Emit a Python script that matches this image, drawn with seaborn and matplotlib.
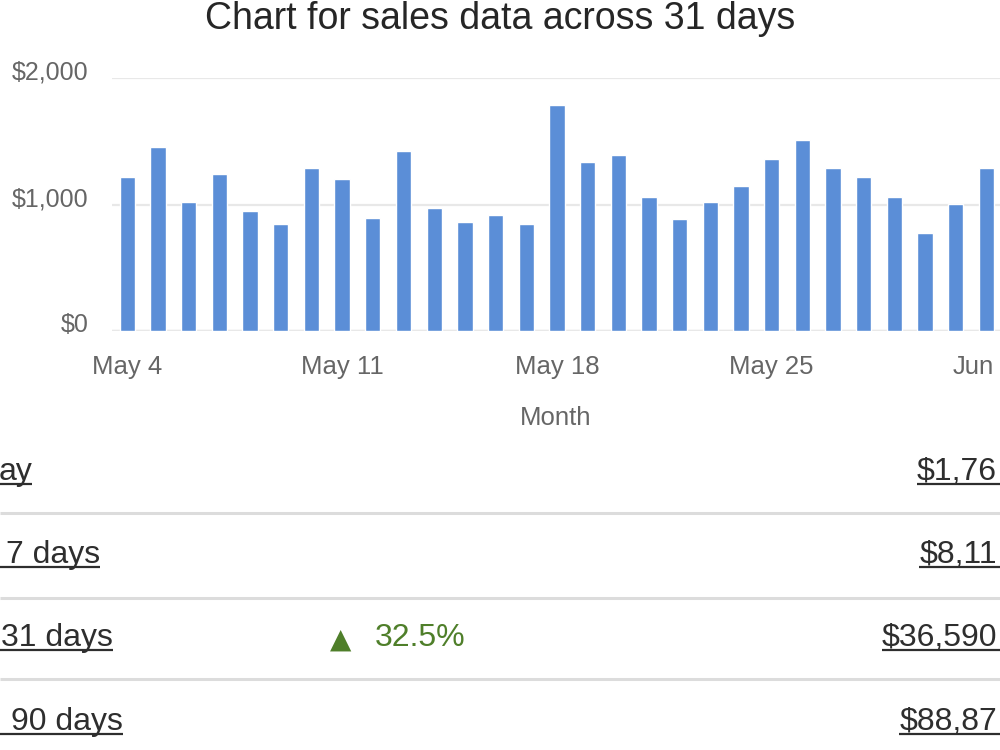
import matplotlib
matplotlib.use("Agg")
import matplotlib.pyplot as plt
from matplotlib.transforms import ScaledTranslation
import seaborn as sns
import pandas as pd

# ---------------- data ----------------
days = ["May 4", "May 5", "May 6", "May 7", "May 8", "May 9", "May 10",
        "May 11", "May 12", "May 13", "May 14", "May 15", "May 16", "May 17",
        "May 18", "May 19", "May 20", "May 21", "May 22", "May 23", "May 24",
        "May 25", "May 26", "May 27", "May 28", "May 29", "May 30", "May 31",
        "Jun 1"]
sales = [1220, 1457, 1022, 1241, 951, 846, 1291,
         1202, 896, 1425, 970, 864, 917, 846,
         1787, 1338, 1391, 1057, 883, 1022, 1146,
         1357, 1510, 1291, 1220, 1057, 772, 1004,
         1291]
tick_days = ["May 4", "May 11", "May 18", "May 25", "Jun 1"]
tick_texts = ["May 4", "May 11", "May 18", "May 25", "Jun"]  # as visible
y_ticks = [0, 1000, 2000]
y_tick_labels = ["$0", "$1,000", "$2,000"]
title = "Chart for sales data across 31 days"
x_label = "Month"

# summary table (text as visible in the cropped screenshot)
row_labels = ["ay", "7 days", "31 days", "90 days"]
row_changes = ["", "", "32.5%", ""]
row_values = ["$1,76", "$8,11", "$36,590", "$88,87"]

# ---------------- style ----------------
sns.set_theme(style="white")
plt.rcParams["font.family"] = ["Liberation Sans", "DejaVu Sans"]

BAR = "#5B8ED7"
TICK = "#666666"
DARK = "#2e2e2e"
GREEN = "#4f7f2a"

fig = plt.figure(figsize=(10, 7.5), dpi=100)
ax = fig.add_axes([0.112, 1 - 331 / 750, 1 - 0.112, (331 - 78) / 750])

df = pd.DataFrame({"day": days, "sales": sales})
sns.barplot(data=df, x="day", y="sales", color=BAR, width=0.5,
            saturation=1, ax=ax)

ax.set_xlim(-0.5, 28.44)
ax.set_ylim(0, 2000)
for s in ax.spines.values():
    s.set_visible(False)
ax.set_yticks(y_ticks)
ax.set_yticklabels(y_tick_labels)
ax.yaxis.grid(True, color="#e8e8e8", linewidth=1.6)
ax.set_axisbelow(True)
ax.axhline(0, color="#d0d0d0", linewidth=1.6, zorder=0)
ax.tick_params(axis="y", length=0, pad=17, labelsize=18, labelcolor=TICK)
ax.tick_params(axis="x", length=0, pad=17, labelsize=18.5, labelcolor=TICK)
ax.set_xticks([days.index(d) for d in tick_days])
ax.set_xticklabels(tick_texts)
xlabs = ax.get_xticklabels()
xlabs[-1].set_transform(xlabs[-1].get_transform() +
                        ScaledTranslation(-13 / 100, 0, fig.dpi_scale_trans))
for lab in ax.get_yticklabels():
    lab.set_transform(lab.get_transform() +
                      ScaledTranslation(0, 8 / 100, fig.dpi_scale_trans))
ax.set_xlabel(x_label, fontsize=18.5, color=TICK, labelpad=20)
ax.set_ylabel("")

fig.text(0.5, 1 - 29 / 750, title, ha="center", va="baseline",
         fontsize=27, color="#262626")

# ---------------- summary table ----------------
tab = fig.add_axes([0, 0, 1, 1])
tab.set_xlim(0, 1000)
tab.set_ylim(750, 0)
tab.axis("off")
tab.patch.set_alpha(0)

row_y = [472, 555, 638, 722]
label_right = [32, 100, 113, 123]
for y in [513, 598, 679]:
    tab.plot([0, 1000], [y, y], color="#dcdcdc", linewidth=2.2,
             solid_capstyle="butt")

left_texts, right_texts = [], []
for i, y in enumerate(row_y):
    t = tab.text(label_right[i], y, row_labels[i], ha="right", va="center",
                 fontsize=23, color=DARK)
    left_texts.append(t)
    v = tab.text(997, y, row_values[i], ha="right", va="center",
                 fontsize=23, color=DARK)
    right_texts.append(v)
    if row_changes[i]:
        tab.text(330, y + 2, "\u25B2", ha="left", va="center",
                 fontsize=20, color=GREEN, family="DejaVu Sans")
        tab.text(375, y, row_changes[i], ha="left", va="center",
                 fontsize=23, color=GREEN)

fig.canvas.draw()
renderer = fig.canvas.get_renderer()
inv = tab.transData.inverted()
for t in left_texts:
    bb = t.get_window_extent(renderer)
    (x0, y0), (x1, y1) = inv.transform([[bb.x0, bb.y0], [bb.x1, bb.y1]])
    tab.plot([0, x1], [y0 - 3, y0 - 3], color=DARK, linewidth=1.6,
             solid_capstyle="butt")
for t in right_texts:
    bb = t.get_window_extent(renderer)
    (x0, y0), (x1, y1) = inv.transform([[bb.x0, bb.y0], [bb.x1, bb.y1]])
    tab.plot([x0, 1000], [y0 - 3, y0 - 3], color=DARK, linewidth=1.6,
             solid_capstyle="butt")

fig.savefig("out.png", dpi=100)
